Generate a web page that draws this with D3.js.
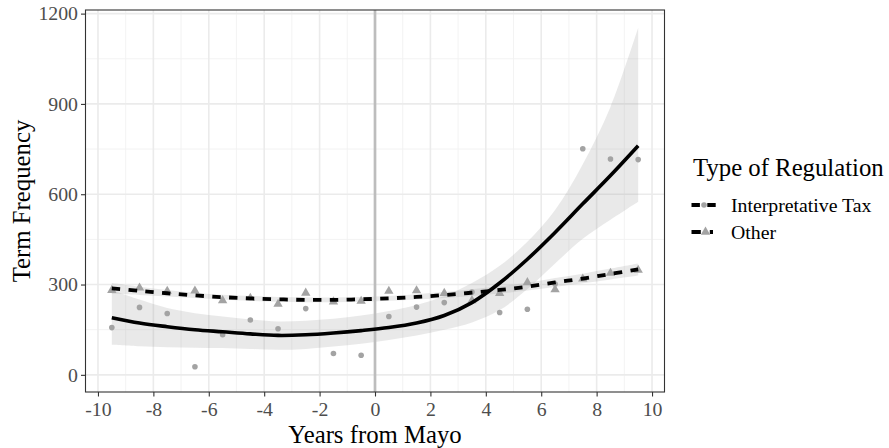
<!DOCTYPE html>
<html>
<head>
<meta charset="utf-8">
<script src="https://cdn.jsdelivr.net/npm/d3@7"></script>
<style>
  body { margin: 0; background: #fff; }
  text { font-family: "Liberation Serif", "Times New Roman", serif; }
</style>
</head>
<body>
<script>
(function(){

    //data
    var years = [-9.5, -8.5, -7.5, -6.5, -5.5, -4.5, -3.5, -2.5, -1.5, -0.5,
                 0.5, 1.5, 2.5, 3.5, 4.5, 5.5, 6.5, 7.5, 8.5, 9.5];
    var taxCounts   = [157, 224, 204, 27, 133, 182, 153, 220, 71, 65,
                       194, 225, 240, 275, 207, 218, 302, 751, 717, 715];
    var otherCounts = [281, 289, 278, 279, 247, 255, 235, 272, 243, 245,
                       278, 280, 271, 247, 271, 307, 283, 319, 338, 348];

    //smoothed fits and confidence bands
    var taxFit  = [190, 172, 160, 150, 143, 136, 131, 133, 139, 147,
                   157, 172, 197, 240, 305, 384, 473, 568, 662, 761];
    var taxLow  = [100, 95, 92, 90, 89, 86, 83, 86, 94, 103,
                   116, 131, 150, 174, 215, 285, 370, 452, 515, 575];
    var taxHigh = [282, 250, 222, 205, 194, 184, 177, 180, 186, 197,
                   212, 232, 262, 305, 362, 442, 548, 700, 890, 1153];
    var otherFit  = [287, 279, 271, 264, 258, 254, 251, 249, 249, 251,
                     254, 259, 265, 273, 282, 293, 307, 320, 335, 350];
    var otherLow  = [269, 265, 260, 255, 250, 246, 243, 241, 241, 243,
                     246, 250, 255, 262, 270, 280, 292, 304, 317, 330];
    var otherHigh = [305, 293, 282, 273, 266, 262, 259, 257, 257, 259,
                     262, 268, 275, 284, 294, 306, 322, 336, 353, 370];

    var xTicks = [-10, -8, -6, -4, -2, 0, 2, 4, 6, 8, 10];
    var xMinor = [-9, -7, -5, -3, -1, 1, 3, 5, 7, 9];
    var yTicks = [0, 300, 600, 900, 1200];
    var yMinor = [150, 450, 750, 1050];
    var seriesNames = ["Interpretative Tax", "Other"];

    //frame
    var width = 889, height = 448,
        panelLeft = 85.5, panelRight = 664.5,
        panelTop = 10, panelBottom = 392;

    var x = d3.scaleLinear().domain([-10.45, 10.45]).range([panelLeft, panelRight]);
    var y = d3.scaleLinear().domain([-57, 1212]).range([panelBottom, panelTop]);

    var svg = d3.select("body").append("svg")
        .attr("width", width)
        .attr("height", height);

    //grid
    var grid = svg.append("g");
    grid.selectAll(".xminor").data(xMinor).enter().append("line")
        .attr("x1", function(d){ return x(d); }).attr("x2", function(d){ return x(d); })
        .attr("y1", panelTop).attr("y2", panelBottom)
        .attr("stroke", "#f2f2f2").attr("stroke-width", 0.9);
    grid.selectAll(".yminor").data(yMinor).enter().append("line")
        .attr("y1", function(d){ return y(d); }).attr("y2", function(d){ return y(d); })
        .attr("x1", panelLeft).attr("x2", panelRight)
        .attr("stroke", "#f2f2f2").attr("stroke-width", 0.9);
    grid.selectAll(".xmajor").data(xTicks).enter().append("line")
        .attr("x1", function(d){ return x(d); }).attr("x2", function(d){ return x(d); })
        .attr("y1", panelTop).attr("y2", panelBottom)
        .attr("stroke", "#ebebeb").attr("stroke-width", 1.6);
    grid.selectAll(".ymajor").data(yTicks).enter().append("line")
        .attr("y1", function(d){ return y(d); }).attr("y2", function(d){ return y(d); })
        .attr("x1", panelLeft).attr("x2", panelRight)
        .attr("stroke", "#ebebeb").attr("stroke-width", 1.6);

    //confidence bands
    function band(low, high){
        return d3.area()
            .x(function(d, i){ return x(years[i]); })
            .y0(function(d, i){ return y(low[i]); })
            .y1(function(d, i){ return y(high[i]); })
            .curve(d3.curveCatmullRom)(years);
    }
    svg.append("path").attr("d", band(taxLow, taxHigh))
        .attr("fill", "#999").attr("fill-opacity", 0.22);
    svg.append("path").attr("d", band(otherLow, otherHigh))
        .attr("fill", "#999").attr("fill-opacity", 0.22);

    //vertical reference line at 0
    svg.append("line")
        .attr("x1", x(0)).attr("x2", x(0))
        .attr("y1", panelTop).attr("y2", panelBottom)
        .attr("stroke", "#bdbdbd").attr("stroke-width", 2.7);

    //points
    svg.selectAll(".taxPoint").data(taxCounts).enter().append("circle")
        .attr("cx", function(d, i){ return x(years[i]); })
        .attr("cy", function(d){ return y(d); })
        .attr("r", 2.8)
        .attr("fill", "#a3a3a3");

    var tri = d3.symbol().type(d3.symbolTriangle).size(38);
    svg.selectAll(".otherPoint").data(otherCounts).enter().append("path")
        .attr("d", tri)
        .attr("transform", function(d, i){ return "translate(" + x(years[i]) + "," + y(d) + ")"; })
        .attr("fill", "#a3a3a3");

    //fitted lines
    function fitLine(vals){
        return d3.line()
            .x(function(d, i){ return x(years[i]); })
            .y(function(d){ return y(d); })
            .curve(d3.curveCatmullRom)(vals);
    }
    svg.append("path").attr("d", fitLine(taxFit))
        .attr("fill", "none").attr("stroke", "#000").attr("stroke-width", 3.6);
    svg.append("path").attr("d", fitLine(otherFit))
        .attr("fill", "none").attr("stroke", "#000").attr("stroke-width", 3.8)
        .attr("stroke-dasharray", "8.4,8.4");

    //panel border
    svg.append("rect")
        .attr("x", panelLeft).attr("y", panelTop)
        .attr("width", panelRight - panelLeft).attr("height", panelBottom - panelTop)
        .attr("fill", "none").attr("stroke", "#333").attr("stroke-width", 1.1);

    //axes
    var xAxis = svg.append("g")
        .attr("transform", "translate(0," + panelBottom + ")")
        .call(d3.axisBottom(x).tickValues(xTicks).tickSize(4.5).tickPadding(5)
            .tickFormat(function(d){ return d < 0 ? "-" + Math.abs(d) : d; }));
    var yAxis = svg.append("g")
        .attr("transform", "translate(" + panelLeft + ",0)")
        .call(d3.axisLeft(y).tickValues(yTicks).tickSize(4.5).tickPadding(3)
            .tickFormat(d3.format("d")));

    [xAxis, yAxis].forEach(function(a){
        a.attr("font-family", null);
        a.select(".domain").remove();
        a.selectAll(".tick line").attr("stroke", "#333").attr("stroke-width", 1.1);
        a.selectAll(".tick text")
            .attr("fill", "#4d4d4d")
            .style("font-size", "19.8px")
            .style("font-family", "'Liberation Serif', serif");
    });

    //axis titles
    svg.append("text")
        .attr("x", (panelLeft + panelRight) / 2).attr("y", 443)
        .attr("text-anchor", "middle")
        .style("font-size", "24.75px")
        .text("Years from Mayo");
    svg.append("text")
        .attr("transform", "translate(30," + (panelTop + panelBottom) / 2 + ") rotate(-90)")
        .attr("text-anchor", "middle")
        .style("font-size", "24.75px")
        .text("Term Frequency");

    //legend
    var legend = svg.append("g");
    legend.append("text")
        .attr("x", 693).attr("y", 176)
        .style("font-size", "24.75px")
        .text("Type of Regulation");

    var keyY = [205, 232];
    seriesNames.forEach(function(name, i){
        legend.append("line")
            .attr("x1", 691.5).attr("x2", i === 0 ? 716.5 : 713)
            .attr("y1", keyY[i]).attr("y2", keyY[i])
            .attr("stroke", "#000").attr("stroke-width", 3.8)
            .attr("stroke-dasharray", i === 0 ? "8.4,7.4" : "9.3,9");
        if (i === 0) {
            legend.append("circle")
                .attr("cx", 704).attr("cy", keyY[i]).attr("r", 2.8)
                .attr("fill", "#a3a3a3");
        } else {
            legend.append("path")
                .attr("d", tri)
                .attr("transform", "translate(705.5," + keyY[i] + ")")
                .attr("fill", "#a3a3a3");
        }
        legend.append("text")
            .attr("x", 731).attr("y", keyY[i] + 7)
            .style("font-size", "19.8px")
            .text(name);
    });

})();
</script>
</body>
</html>
